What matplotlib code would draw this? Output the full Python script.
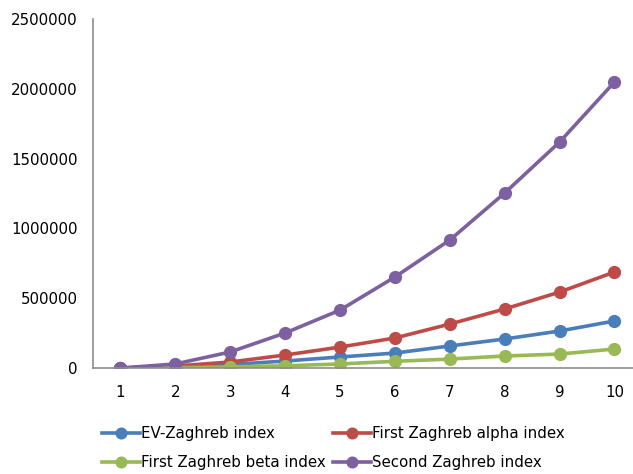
import matplotlib
matplotlib.use("Agg")
import matplotlib.pyplot as plt

# order of the graphs (number of vertices)
n = [1, 2, 3, 4, 5, 6, 7, 8, 9, 10]

ev_zagreb = [0, 7000, 25000, 50000, 79000, 107000, 158000, 208000, 265000, 337000]
first_alpha = [0, 14000, 43000, 93000, 150000, 215000, 315000, 423000, 544000, 688000]
first_beta = [0, 2000, 8000, 16000, 29000, 48000, 64000, 86000, 100000, 136000]
second_zagreb = [0, 29000, 115000, 251000, 415000, 652000, 917000, 1254000, 1619000, 2049000]

labels = ["EV-Zaghreb index", "First Zaghreb alpha index",
          "First Zaghreb beta index", "Second Zaghreb index"]
colors = ["#4a7ebb", "#be4b48", "#98b954", "#7d60a0"]

fig = plt.figure(figsize=(6.33, 4.74), dpi=100)
ax = fig.add_axes([0.147, 0.2236, 0.867, 0.736])

series = [ev_zagreb, first_alpha, first_beta, second_zagreb]
lines = []
for vals, lab, c in zip(series, labels, colors):
    ln, = ax.plot(n, vals, color=c, lw=2.6, marker="o", ms=8.5, label=lab)
    lines.append(ln)

ax.set_xlim(0.5, 10.5)
ax.set_ylim(0, 2500000)
ax.set_xticks(n)
ax.set_yticks([0, 500000, 1000000, 1500000, 2000000, 2500000])
ax.set_yticklabels(["0", "500000", "1000000", "1500000", "2000000", "2500000"])
ax.tick_params(length=0, labelsize=10.8, pad=12)
ax.tick_params(axis="y", pad=11)

for s in ["top", "right"]:
    ax.spines[s].set_visible(False)
for s in ["left", "bottom"]:
    ax.spines[s].set_color("#8c8c8c")
    ax.spines[s].set_linewidth(1.2)

# two-column legend under the plot, filled row by row
order = [0, 2, 1, 3]
fig.legend([lines[i] for i in order], [labels[i] for i in order],
           loc="lower left", bbox_to_anchor=(0.152, -0.005), ncol=2,
           frameon=False, fontsize=10.8, handlelength=2.5, handletextpad=0.1,
           columnspacing=0.5, labelspacing=0.95, borderaxespad=0,
           markerscale=0.9)

fig.savefig("out.png", dpi=100)
